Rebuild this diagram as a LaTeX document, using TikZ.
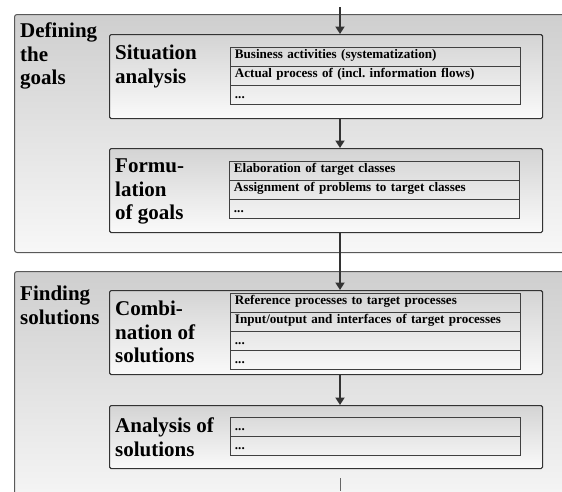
\documentclass[tikz,border=0pt]{standalone}
\usepackage{fontspec}
\setmainfont{Liberation Serif}
\usetikzlibrary{arrows.meta}
\frenchspacing
\begin{document}
\begin{tikzpicture}[x=1pt,y=-1pt,
  outerbox/.style={draw=black!65, line width=1pt, rounded corners=2.5pt, top color=black!19, bottom color=black!3, shading angle=0},
  innerbox/.style={draw=black!80, line width=1.1pt, rounded corners=1.5pt, top color=black!17, bottom color=black!2, anchor=north west, inner sep=0pt},
  mainlbl/.style={anchor=north west, inner sep=0pt, align=left, font=\bfseries\fontsize{21}{23.5}\selectfont},
  rowbox/.style={draw=black!75, line width=0.9pt, anchor=north west, minimum width=290pt, minimum height=19pt, inner xsep=4.5pt, inner ysep=0pt, text width=281pt, align=left, text height=8pt, text depth=4pt, font=\bfseries\fontsize{13.1}{14}\selectfont},
  dotrow/.style={rowbox, text depth=0pt},
  flow/.style={draw=black!80, line width=2.2pt, -{Triangle[width=9pt,length=7.5pt]}}
]
\useasboundingbox (0,0) rectangle (562,491);
\clip (0,0) rectangle (562,491);
% outer boxes
\node[outerbox, anchor=north west, minimum width=570pt, minimum height=238pt, inner sep=0pt] (goals) at (14,14) {};
\node[outerbox, anchor=north west, minimum width=570pt, minimum height=240pt, inner sep=0pt] (solutions) at (14,271) {};
\node[mainlbl] (goalslbl) at (20,23) {Defining\\the\\goals};
\node[mainlbl] (sollbl) at (20,286) {Finding\\solutions};
% inner boxes
\node[innerbox, minimum width=433pt, minimum height=84pt] (sa) at (109,34) {};
\node[innerbox, minimum width=433pt, minimum height=84pt] (fg) at (109,148) {};
\node[innerbox, minimum width=433pt, minimum height=84pt] (cs) at (109,290) {};
\node[innerbox, minimum width=433pt, minimum height=63pt] (as) at (109,405) {};
\node[mainlbl] (salbl) at (115,45) {Situation\\analysis};
\node[mainlbl] (fglbl) at (115,159) {Formu-\\lation\\of goals};
\node[mainlbl] (cslbl) at (115,301) {Combi-\\nation of\\solutions};
\node[mainlbl] (aslbl) at (115,418) {Analysis of\\solutions};
% tables
\node[rowbox] (sa1) at (230,47) {Business activities (systematization)};
\node[rowbox] (sa2) at (230,66) {Actual process of (incl. information flows)};
\node[dotrow] (sa3) at (230,85) {...};
\node[rowbox] (fg1) at (229,161) {Elaboration of target classes};
\node[rowbox] (fg2) at (229,180) {Assignment of problems to target classes};
\node[dotrow] (fg3) at (229,199) {...};
\node[rowbox] (cs1) at (230,293) {Reference processes to target processes};
\node[rowbox] (cs2) at (230,312) {Input/output and interfaces of target processes};
\node[dotrow] (cs3) at (230,331) {...};
\node[dotrow] (cs4) at (230,350) {...};
\node[dotrow] (as1) at (230,417) {...};
\node[dotrow] (as2) at (230,436) {...};
% connectors
\coordinate (top) at (340,7);
\coordinate (bot) at (340,478);
\coordinate (botend) at (340,491);
\draw[flow] (top) -- (sa.north -| top);
\draw[flow] (sa.south -| top) -- (fg.north -| top);
\draw[flow] (fg.south -| top) -- (cs.north -| top);
\draw[flow] (cs.south -| top) -- (as.north -| top);
\draw[draw=black!60, line width=1pt] (bot) -- (botend);
\end{tikzpicture}
\end{document}
